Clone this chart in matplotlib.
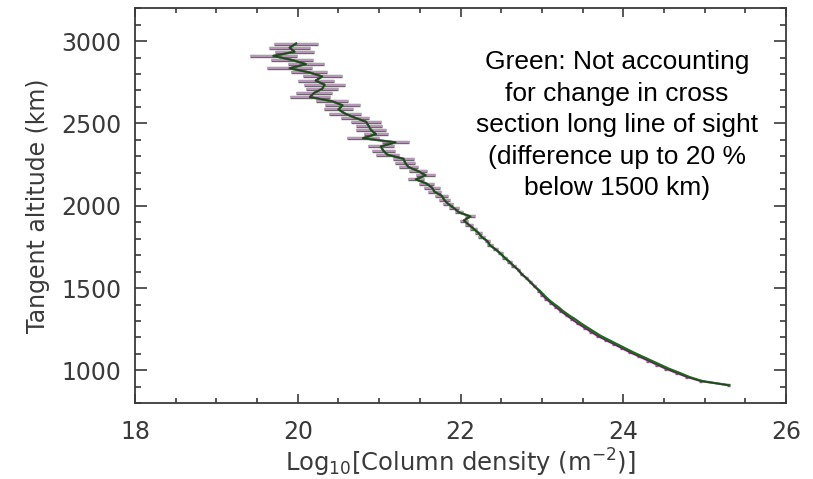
import matplotlib
matplotlib.use("Agg")
import matplotlib.pyplot as plt
from matplotlib.ticker import MultipleLocator

# Tangent altitude (km)
altitude = [2985, 2960, 2935, 2910, 2885, 2860, 2835, 2810, 2785, 2760,
            2735, 2710, 2685, 2660, 2635, 2610, 2585, 2560, 2535, 2510,
            2485, 2460, 2435, 2410, 2385, 2360, 2335, 2310, 2285, 2260,
            2235, 2210, 2185, 2160, 2135, 2110, 2085, 2060, 2035, 2010,
            1985, 1960, 1935, 1910, 1885, 1860, 1835, 1810, 1785, 1760,
            1735, 1710, 1685, 1660, 1635, 1610, 1585, 1560, 1535, 1510,
            1485, 1460, 1435, 1410, 1385, 1360, 1335, 1310, 1285, 1260,
            1235, 1210, 1185, 1160, 1135, 1110, 1085, 1060, 1035, 1010,
            985, 960, 935, 910]

# Log10 column density (m^-2), main retrieval
log_col = [19.98, 19.90, 19.96, 19.70, 19.93, 20.10, 19.90, 20.14, 20.30, 20.22,
           20.33, 20.30, 20.20, 20.15, 20.42, 20.55, 20.50, 20.58, 20.70, 20.84,
           20.87, 20.90, 20.96, 20.80, 21.20, 21.02, 21.05, 21.10, 21.30, 21.32,
           21.36, 21.48, 21.57, 21.45, 21.58, 21.65, 21.68, 21.77, 21.80, 21.85,
           21.92, 21.98, 22.12, 22.04, 22.10, 22.16, 22.22, 22.26, 22.33, 22.36,
           22.43, 22.49, 22.54, 22.60, 22.65, 22.71, 22.75, 22.81, 22.86, 22.91,
           22.96, 23.00, 23.05, 23.11, 23.17, 23.23, 23.30, 23.37, 23.44, 23.52,
           23.60, 23.68, 23.78, 23.88, 23.98, 24.08, 24.19, 24.30, 24.41, 24.52,
           24.65, 24.78, 24.95, 25.29]

# Half-width of the error bars (log10 units)
log_err = [0.27, 0.25, 0.24, 0.29, 0.26, 0.22, 0.28, 0.22, 0.24, 0.22,
           0.25, 0.20, 0.22, 0.24, 0.20, 0.22, 0.18, 0.20, 0.17, 0.18,
           0.16, 0.18, 0.15, 0.20, 0.17, 0.16, 0.14, 0.14, 0.13, 0.12,
           0.12, 0.11, 0.12, 0.10, 0.09, 0.10, 0.08, 0.08, 0.07, 0.06,
           0.06, 0.05, 0.06, 0.05, 0.05, 0.04, 0.04, 0.04, 0.03, 0.04,
           0.03, 0.03, 0.03, 0.03, 0.03, 0.02, 0.02, 0.02, 0.02, 0.02,
           0.02, 0.02, 0.02, 0.02, 0.02, 0.02, 0.02, 0.02, 0.02, 0.02,
           0.02, 0.02, 0.02, 0.02, 0.02, 0.02, 0.02, 0.02, 0.02, 0.02,
           0.02, 0.02, 0.02, 0.02]

# Green: not accounting for change in cross section (values differ below ~1500 km)
green_low = [22.97, 23.02, 23.07, 23.13, 23.20, 23.26, 23.33, 23.41, 23.48, 23.56,
             23.64, 23.72, 23.82, 23.92, 24.02, 24.12, 24.23, 24.34, 24.45, 24.56,
             24.69, 24.81, 24.97, 25.30]
green_col = log_col[:len(log_col) - len(green_low)] + green_low

annotation = ("Green: Not accounting\nfor change in cross\nsection long line of sight\n"
              "(difference up to 20 %\nbelow 1500 km)")

fig = plt.figure(figsize=(8.13, 4.79), dpi=100)
ax = fig.add_axes([0.166, 0.158, 0.801, 0.825])

ax.errorbar(log_col, altitude, xerr=log_err, fmt='none', ecolor='#6a6a6a',
            elinewidth=2.4, capsize=0, zorder=2)
ax.errorbar(log_col, altitude, xerr=log_err, fmt='none', ecolor='#c99dc9',
            elinewidth=1.2, capsize=0, zorder=3)
ax.plot(log_col, altitude, color='#b0309f', lw=1.5, zorder=4)
ax.plot(green_col, altitude, color='#1d6b1d', lw=1.6, zorder=5)
ax.plot(log_col, altitude, color='#2a2a2a', lw=0.5, zorder=6)

ax.set_xlim(18, 26)
ax.set_ylim(800, 3200)
ax.xaxis.set_major_locator(MultipleLocator(2))
ax.xaxis.set_minor_locator(MultipleLocator(0.5))
ax.yaxis.set_major_locator(MultipleLocator(500))
ax.yaxis.set_minor_locator(MultipleLocator(100))

tc = '#3a3a3a'
ax.tick_params(axis='both', which='both', direction='in', top=True, right=True,
               colors=tc, width=1.2)
ax.tick_params(axis='y', which='major', length=8.5, labelsize=17, pad=10)
ax.tick_params(axis='y', which='minor', length=4.5)
ax.tick_params(axis='x', which='major', length=6.5, labelsize=17, pad=12)
ax.tick_params(axis='x', which='minor', length=3.5)
for lab in ax.get_xticklabels() + ax.get_yticklabels():
    lab.set_color(tc)
for sp in ax.spines.values():
    sp.set_color(tc)
    sp.set_linewidth(1.3)

ax.set_xlabel(r'Log$_{10}$[Column density (m$^{-2}$)]', fontsize=17.5, color=tc, labelpad=2)
ax.set_ylabel('Tangent altitude (km)', fontsize=17, color=tc, labelpad=8)

ax.text(0.740, 0.704, annotation, transform=ax.transAxes, ha='center', va='center',
        fontsize=19, family='Liberation Sans', color='black', linespacing=1.40)

fig.savefig('out.png', dpi=100)
